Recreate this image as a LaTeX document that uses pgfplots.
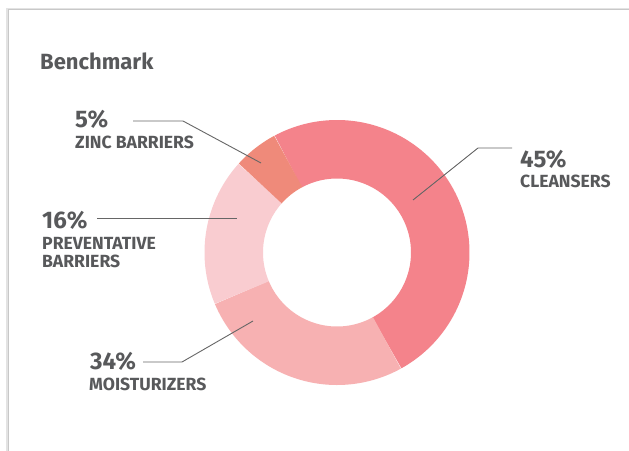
\documentclass[border=0pt]{standalone}
\usepackage{fontspec}
\setmainfont{Fira Sans}
\usepackage{pgfplots}
\pgfplotsset{compat=1.18}
\usepackage{pgfplotstable}

\definecolor{txt}{HTML}{58595B}
\definecolor{lead}{HTML}{666666}
\definecolor{frame}{HTML}{C8C8C8}
\definecolor{cClean}{HTML}{F4838B}
\definecolor{cMoist}{HTML}{F7B1B2}
\definecolor{cPrev}{HTML}{F9CCD0}
\definecolor{cZinc}{HTML}{EF8A7A}

% slice sizes as drawn (clockwise from the top-left boundary)
\pgfplotstableread{
name value
Cleansers 49.8
Moisturizers 26.7
Preventative 18.0
Zinc 5.5
}\slices

\begin{document}
\begin{tikzpicture}
\pgfplotstablegetelem{0}{value}\of\slices \let\vA\pgfplotsretval
\pgfplotstablegetelem{1}{value}\of\slices \let\vB\pgfplotsretval
\pgfplotstablegetelem{2}{value}\of\slices \let\vC\pgfplotsretval
\pgfplotstablegetelem{3}{value}\of\slices \let\vD\pgfplotsretval
\pgfmathsetmacro\tA{118.2}
\pgfmathsetmacro\tB{\tA-3.6*\vA}
\pgfmathsetmacro\tC{\tB-3.6*\vB}
\pgfmathsetmacro\tD{\tC-3.6*\vC}
\pgfmathsetmacro\tE{\tD-3.6*\vD}
% centre, mid radius of the ring in px
\def\cx{337}\def\cy{252.5}\def\rm{103.25}
\begin{axis}[
  width=629bp, height=451bp, scale only axis,
  xmin=0, xmax=629, ymin=0, ymax=451, y dir=reverse,
  hide axis, clip=false,
  every axis plot/.append style={no markers, line width=58.5bp, samples=120},
]
\fill[white] (axis cs:0,0) rectangle (axis cs:629,451);
\draw[frame!50, line width=2bp] (axis cs:7,451) -- (axis cs:7,9) -- (axis cs:629,9);
\draw[frame, line width=1bp] (axis cs:8,451) -- (axis cs:8,10) -- (axis cs:629,10);

\addplot[cClean, domain=\tB:\tA, variable=\t] ({\cx+\rm*cos(t)},{\cy-\rm*sin(t)});
\addplot[cMoist, domain=\tC:\tB, variable=\t] ({\cx+\rm*cos(t)},{\cy-\rm*sin(t)});
\addplot[cPrev,  domain=\tD:\tC, variable=\t] ({\cx+\rm*cos(t)},{\cy-\rm*sin(t)});
\addplot[cZinc,  domain=\tE:\tD, variable=\t] ({\cx+\rm*cos(t)},{\cy-\rm*sin(t)});

% leader lines
\draw[lead, line width=0.9bp] (axis cs:133,121) -- (axis cs:183,121) -- (axis cs:261,163);
\draw[lead, line width=0.9bp] (axis cs:97,218) -- (axis cs:237,218);
\draw[lead, line width=0.9bp] (axis cs:512,148) -- (axis cs:478,148) -- (axis cs:413,200);
\draw[lead, line width=0.9bp] (axis cs:143,362) -- (axis cs:182,362) -- (axis cs:253,321);

\tikzset{pct/.style={anchor=base west, inner sep=0, text=txt, font=\fontsize{24bp}{24bp}\selectfont\bfseries},
         lab/.style={anchor=base west, inner sep=0, text=txt, font=\fontsize{17.6bp}{19bp}\selectfont\bfseries}}
\node[anchor=base west, inner sep=0, text=txt, font=\fontsize{22bp}{22bp}\selectfont\bfseries] at (axis cs:40,70) {Benchmark};

\node[pct] at (axis cs:75,127) {5\%};
\node[lab] at (axis cs:75,148) {ZINC BARRIERS};
\node[pct] at (axis cs:42,228) {16\%};
\node[lab] at (axis cs:42,249) {PREVENTATIVE};
\node[lab] at (axis cs:42,267) {BARRIERS};
\node[pct] at (axis cs:520,167) {45\%};
\node[lab] at (axis cs:520,187) {CLEANSERS};
\node[pct] at (axis cs:90,369) {34\%};
\node[lab] at (axis cs:89,390) {MOISTURIZERS};
\end{axis}
\pgfresetboundingbox
\path (current axis.south west) rectangle (current axis.north east);
\end{tikzpicture}
\end{document}
